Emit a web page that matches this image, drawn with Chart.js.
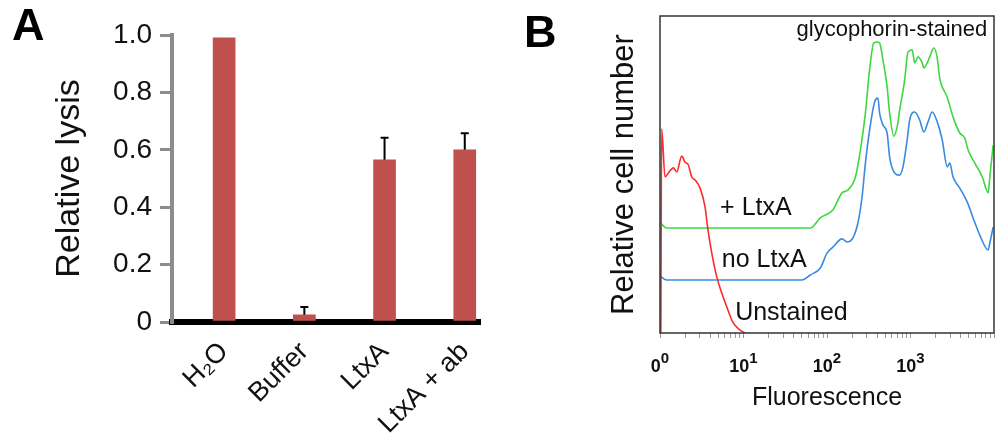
<!DOCTYPE html>
<html lang="en">
<head>
    <meta charset="UTF-8">
    <title>Relative lysis and glycophorin staining</title>
    <script src="https://cdn.jsdelivr.net/npm/chart.js@4"></script>
    <style>
        body { margin: 0; background: #fff; }
        .panel { position: absolute; top: 0; height: 443px; }
        #panelA { left: 0; width: 520px; }
        #panelB { left: 520px; width: 480px; }
    </style>
</head>
<body>
    <div class="panel" id="panelA"><canvas id="chartLysis"></canvas></div>
    <div class="panel" id="panelB"><canvas id="chartFluor"></canvas></div>

    <script>
        // Panel A: relative lysis
        const categories = ['H₂O', 'Buffer', 'LtxA', 'LtxA + ab'];
        const lysis = [0.99, 0.025, 0.565, 0.60];
        const lysisErr = [0, 0.027, 0.077, 0.058];
        const yTicksA = [0, 0.2, 0.4, 0.6, 0.8, 1.0];
        const yTickLabelsA = ['0', '0.2', '0.4', '0.6', '0.8', '1.0'];

        // Panel B: x = decades of fluorescence (log10), y = relative cell number
        const xTickBase = ['0', '10', '10', '10'];
        const xTickExp = ['0', '1', '2', '3'];
        const unstainedX = [0.01, 0.02, 0.06, 0.10, 0.16, 0.20, 0.26, 0.30, 0.34, 0.38, 0.42, 0.48, 0.54, 0.57, 0.62, 0.68, 0.74, 0.80, 0.87, 0.96, 1.02];
        const unstainedY = [0, 64.4, 49.2, 50.5, 52.1, 50.8, 55.8, 53.9, 53.0, 49.2, 48.3, 45.7, 39.7, 33.4, 25.2, 17.7, 12.6, 8.2, 3.5, 0.9, 0];
        const ltxaX = [0, 0.04, 0.08, 0.6, 1.2, 1.80, 1.92, 2.07, 2.18, 2.25, 2.34, 2.40, 2.46, 2.51, 2.56, 2.60, 2.63, 2.67, 2.72, 2.75, 2.80, 2.84, 2.87, 2.93, 2.97, 3.02, 3.05, 3.09, 3.14, 3.16, 3.20, 3.23, 3.28, 3.32, 3.35, 3.44, 3.51, 3.59, 3.65, 3.69, 3.77, 3.86, 3.93, 3.95, 3.99];
        const ltxaY = [35.0, 33.8, 33.1, 33.1, 33.1, 33.1, 36.3, 38.8, 44.2, 45.1, 49.2, 57.7, 69.4, 83.0, 91.5, 91.8, 91.5, 86.1, 77.6, 69.4, 62.1, 65.0, 70.3, 79.8, 88.6, 89.3, 85.2, 87.1, 85.2, 83.6, 85.2, 87.1, 89.9, 86.8, 80.4, 74.4, 68.1, 63.1, 61.5, 57.7, 53.6, 49.2, 44.2, 49.2, 59.3];
        const noLtxaX = [0, 0.08, 0.6, 1.2, 1.70, 1.80, 1.92, 2.00, 2.07, 2.18, 2.24, 2.31, 2.37, 2.42, 2.46, 2.51, 2.57, 2.61, 2.63, 2.67, 2.72, 2.75, 2.81, 2.87, 2.91, 2.96, 2.99, 3.05, 3.11, 3.16, 3.21, 3.26, 3.32, 3.38, 3.44, 3.47, 3.51, 3.59, 3.68, 3.75, 3.83, 3.93, 3.95, 3.99];
        const noLtxaY = [18.0, 16.7, 16.7, 16.7, 16.7, 18.3, 20.5, 25.2, 27.1, 29.7, 28.7, 30.0, 34.7, 42.9, 53.6, 64.0, 72.9, 74.1, 69.4, 65.6, 63.1, 55.5, 50.5, 49.8, 52.4, 60.9, 67.2, 69.7, 67.2, 63.4, 66.6, 69.7, 66.6, 60.9, 52.4, 53.6, 49.2, 45.7, 41.3, 36.3, 30.9, 26.2, 28.4, 33.4];

        // text labels inside panel B (anchored in data coordinates)
        const notesText = ['glycophorin-stained', '+ LtxA', 'no LtxA', 'Unstained'];
        const notesX = [3.92, 0.72, 0.74, 0.90];
        const notesY = [95.6, 39.4, 23.0, 6.3];

        const FONT = "'Liberation Sans', Arial, sans-serif";
        Chart.defaults.font.family = FONT;
        Chart.defaults.color = '#111';

        const pairs = (xs, ys) => xs.map((x, i) => ({ x: x, y: ys[i] }));

        // big panel letter in the corner
        const panelLetter = {
            id: 'panelLetter',
            afterDraw(chart, args, opts) {
                const ctx = chart.ctx;
                ctx.save();
                ctx.font = 'bold 45px ' + FONT;
                ctx.fillStyle = '#000';
                ctx.textBaseline = 'alphabetic';
                ctx.fillText(opts.text, opts.x, opts.y);
                ctx.restore();
            }
        };

        // upward error bars with a small cap
        const errorBars = {
            id: 'errorBars',
            afterDatasetsDraw(chart) {
                const { ctx, scales: { x, y } } = chart;
                ctx.save();
                ctx.strokeStyle = '#000';
                ctx.lineWidth = 2;
                lysis.forEach((v, i) => {
                    if (!lysisErr[i]) return;
                    const px = x.getPixelForValue(i);
                    const base = y.getPixelForValue(v);
                    const top = y.getPixelForValue(v + lysisErr[i]);
                    ctx.beginPath();
                    ctx.moveTo(px, base);
                    ctx.lineTo(px, top);
                    ctx.moveTo(px - 4, top);
                    ctx.lineTo(px + 4, top);
                    ctx.stroke();
                });
                ctx.restore();
            }
        };

        // frame around plot B, its text notes and the 10^n tick labels
        const frameNotes = {
            id: 'frameNotes',
            afterDatasetsDraw(chart) {
                const { ctx, chartArea: a, scales: { x, y } } = chart;
                ctx.save();
                ctx.strokeStyle = '#333';
                ctx.lineWidth = 1.5;
                ctx.strokeRect(a.left, a.top, a.right - a.left, a.bottom - a.top);
                ctx.fillStyle = '#111';
                ctx.textBaseline = 'middle';
                notesText.forEach((t, i) => {
                    ctx.font = (i === 0 ? '22px ' : '25px ') + FONT;
                    ctx.textAlign = i === 0 ? 'right' : 'left';
                    ctx.fillText(t, x.getPixelForValue(notesX[i]), y.getPixelForValue(notesY[i]));
                });

                ctx.textBaseline = 'alphabetic';
                ctx.textAlign = 'left';
                xTickBase.forEach((b, i) => {
                    ctx.font = 'bold 18px ' + FONT;
                    const wb = ctx.measureText(b).width;
                    ctx.font = 'bold 15px ' + FONT;
                    const we = ctx.measureText(xTickExp[i]).width;
                    const left = x.getPixelForValue(i) - (wb + we) / 2;
                    ctx.font = 'bold 18px ' + FONT;
                    ctx.fillText(b, left, a.bottom + 39);
                    ctx.font = 'bold 15px ' + FONT;
                    ctx.fillText(xTickExp[i], left + wb, a.bottom + 30);
                });
                ctx.restore();
            }
        };

        new Chart(document.getElementById('chartLysis'), {
            type: 'bar',
            data: {
                datasets: [{
                    data: pairs(lysis.map((_, i) => i), lysis),
                    backgroundColor: '#c0504d',
                    barThickness: 22
                }]
            },
            options: {
                responsive: true,
                maintainAspectRatio: false,
                animation: false,
                layout: { padding: { left: 0, right: 40, top: 35, bottom: 0 } },
                plugins: {
                    legend: { display: false },
                    tooltip: { enabled: false },
                    panelLetter: { text: 'A', x: 12, y: 40 }
                },
                scales: {
                    x: {
                        type: 'linear',
                        min: -0.65,
                        max: 3.19,
                        offset: false,
                        z: 1,
                        grid: { display: false },
                        border: { display: true, color: '#000', width: 6 },
                        afterBuildTicks: s => { s.ticks = categories.map((_, i) => ({ value: i })); },
                        afterFit: s => { s.height = 121; },
                        ticks: {
                            autoSkip: false,
                            minRotation: 45,
                            maxRotation: 45,
                            padding: 6,
                            font: { size: 27 },
                            callback: (v, i) => categories[i]
                        }
                    },
                    y: {
                        min: 0,
                        max: 1,
                        afterBuildTicks: s => { s.ticks = yTicksA.map(v => ({ value: v })); },
                        afterFit: s => { s.width = 172; },
                        grid: { drawOnChartArea: false, drawTicks: true, tickLength: 12, color: '#8c8c8c', lineWidth: 3 },
                        border: { color: '#8c8c8c', width: 4 },
                        ticks: { padding: 8, font: { size: 28 }, callback: (v, i) => yTickLabelsA[i] },
                        title: { display: true, text: 'Relative lysis', font: { size: 34 }, padding: { top: 49, bottom: 0 } }
                    }
                }
            },
            plugins: [errorBars, panelLetter]
        });

        new Chart(document.getElementById('chartFluor'), {
            type: 'line',
            data: {
                datasets: [
                    { label: 'Unstained', data: pairs(unstainedX, unstainedY), borderColor: '#ff2a2a' },
                    { label: '+ LtxA', data: pairs(ltxaX, ltxaY), borderColor: '#3fd63f' },
                    { label: 'no LtxA', data: pairs(noLtxaX, noLtxaY), borderColor: '#3a8ae0' }
                ]
            },
            options: {
                responsive: true,
                maintainAspectRatio: false,
                animation: false,
                elements: {
                    point: { radius: 0 },
                    line: { borderWidth: 1.6, cubicInterpolationMode: 'monotone', fill: false }
                },
                layout: { padding: { left: 0, right: 6, top: 16, bottom: 0 } },
                plugins: {
                    legend: { display: false },
                    tooltip: { enabled: false },
                    panelLetter: { text: 'B', x: 4, y: 47 }
                },
                scales: {
                    x: {
                        type: 'linear',
                        min: 0,
                        max: 4,
                        afterBuildTicks: s => {
                            const t = [];
                            for (let d = 0; d < 4; d++) {
                                for (let k = 1; k < 10; k++) t.push({ value: d + Math.log10(k) });
                            }
                            t.push({ value: 4 });
                            s.ticks = t;
                        },
                        afterFit: s => { s.height = 110; },
                        grid: { drawOnChartArea: false, tickLength: 5, color: '#999' },
                        border: { display: false },
                        ticks: { autoSkip: false, maxRotation: 0, callback: () => '' },
                        title: { display: true, text: 'Fluorescence', font: { size: 25 }, padding: { top: 0, bottom: 30 } }
                    },
                    y: {
                        min: 0,
                        max: 100,
                        ticks: { display: false },
                        grid: { display: false },
                        border: { display: false },
                        afterFit: s => { s.width = 140; },
                        title: { display: true, text: 'Relative cell number', font: { size: 31 }, padding: { top: 86, bottom: 0 } }
                    }
                }
            },
            plugins: [frameNotes, panelLetter]
        });
    </script>
</body>
</html>
